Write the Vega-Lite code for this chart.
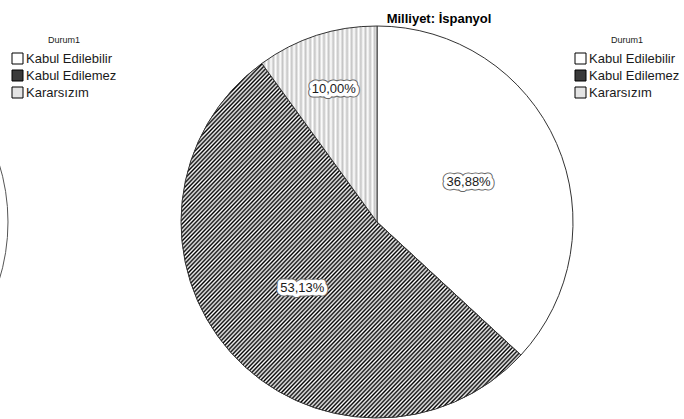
{
 "$schema": "https://vega.github.io/schema/vega-lite/v6.json",
 "width": 392,
 "height": 392,
 "autosize": {"type": "none"},
 "padding": {"left": 181, "top": 26, "right": 111, "bottom": 1},
 "background": "white",
 "title": {"text": "Milliyet: İspanyol", "font": "Liberation Sans", "fontSize": 13, "fontWeight": "bold", "color": "#000", "anchor": "middle", "frame": "group", "dx": 62, "offset": -12, "baseline": "alphabetic"},
 "data": {"values": [
  {"Milliyet": "Türk", "Durum": "Kabul Edilebilir", "Oran": 0.40},
  {"Milliyet": "Türk", "Durum": "Kabul Edilemez", "Oran": 0.50},
  {"Milliyet": "Türk", "Durum": "Kararsızım", "Oran": 0.10},
  {"Milliyet": "İspanyol", "Durum": "Kabul Edilebilir", "Oran": 0.3688},
  {"Milliyet": "İspanyol", "Durum": "Kabul Edilemez", "Oran": 0.5313},
  {"Milliyet": "İspanyol", "Durum": "Kararsızım", "Oran": 0.1000}
 ]},
 "layer": [
  {
   "transform": [{"filter": "datum.Milliyet === 'Türk'"}],
   "mark": {"type": "arc", "outerRadius": 196, "stroke": "#555", "strokeWidth": 1},
   "encoding": {
    "x": {"field": "Milliyet", "type": "nominal", "scale": {"type": "point", "padding": 0, "domain": ["Türk", "İspanyol"], "range": [-369, 196]}, "axis": null},
    "theta": {"field": "Oran", "type": "quantitative", "stack": true},
    "order": {"field": "Durum", "type": "ordinal", "sort": "ascending"},
    "fill": {"field": "Durum", "type": "nominal", "scale": {"domain": ["Kabul Edilebilir", "Kabul Edilemez", "Kararsızım"], "range": ["#ffffff", "#3a3a3a", "#e4e4e4"]},
     "legend": {"title": "Durum1", "orient": "none", "legendX": -170, "legendY": 10}}
   }
  },
  {
   "transform": [{"filter": "datum.Milliyet === 'İspanyol'"}],
   "mark": {"type": "arc", "outerRadius": 196},
   "encoding": {
    "theta": {"field": "Oran", "type": "quantitative", "stack": true},
    "order": {"field": "Durum", "type": "ordinal", "sort": "ascending"},
    "fill": {"field": "Durum", "type": "nominal", "scale": {"domain": ["Kabul Edilebilir", "Kabul Edilemez", "Kararsızım"], "range": ["#ffffff", "#3a3a3a", "#e4e4e4"]},
     "legend": {"title": "Durum1", "orient": "none", "legendX": 393, "legendY": 10}}
   }
  },
  {
   "transform": [{"filter": "datum.Milliyet === 'İspanyol'"}],
   "mark": {"type": "arc", "outerRadius": 196, "stroke": "#333", "strokeWidth": 1},
   "encoding": {
    "theta": {"field": "Oran", "type": "quantitative", "stack": true},
    "order": {"field": "Durum", "type": "ordinal", "sort": "ascending"},
    "detail": {"field": "Durum"},
    "fill": {"condition": [
     {"test": "datum.Durum === 'Kabul Edilemez'", "value": {"gradient": "linear", "x1": 0, "y1": 0, "x2": 1, "y2": 1, "stops": [
{"offset":0.000,"color":"#000"},{"offset":0.003,"color":"#fff"},{"offset":0.006,"color":"#000"},{"offset":0.009,"color":"#fff"},{"offset":0.012,"color":"#000"},{"offset":0.015,"color":"#fff"},{"offset":0.018,"color":"#000"},{"offset":0.021,"color":"#fff"},{"offset":0.024,"color":"#000"},{"offset":0.027,"color":"#fff"},
{"offset":0.030,"color":"#000"},{"offset":0.033,"color":"#fff"},{"offset":0.036,"color":"#000"},{"offset":0.039,"color":"#fff"},{"offset":0.042,"color":"#000"},{"offset":0.045,"color":"#fff"},{"offset":0.048,"color":"#000"},{"offset":0.051,"color":"#fff"},{"offset":0.054,"color":"#000"},{"offset":0.057,"color":"#fff"},
{"offset":0.060,"color":"#000"},{"offset":0.063,"color":"#fff"},{"offset":0.066,"color":"#000"},{"offset":0.069,"color":"#fff"},{"offset":0.072,"color":"#000"},{"offset":0.075,"color":"#fff"},{"offset":0.078,"color":"#000"},{"offset":0.081,"color":"#fff"},{"offset":0.084,"color":"#000"},{"offset":0.087,"color":"#fff"},
{"offset":0.090,"color":"#000"},{"offset":0.093,"color":"#fff"},{"offset":0.096,"color":"#000"},{"offset":0.099,"color":"#fff"},{"offset":0.102,"color":"#000"},{"offset":0.105,"color":"#fff"},{"offset":0.108,"color":"#000"},{"offset":0.111,"color":"#fff"},{"offset":0.114,"color":"#000"},{"offset":0.117,"color":"#fff"},
{"offset":0.120,"color":"#000"},{"offset":0.123,"color":"#fff"},{"offset":0.126,"color":"#000"},{"offset":0.129,"color":"#fff"},{"offset":0.132,"color":"#000"},{"offset":0.135,"color":"#fff"},{"offset":0.138,"color":"#000"},{"offset":0.141,"color":"#fff"},{"offset":0.144,"color":"#000"},{"offset":0.147,"color":"#fff"},
{"offset":0.150,"color":"#000"},{"offset":0.153,"color":"#fff"},{"offset":0.156,"color":"#000"},{"offset":0.159,"color":"#fff"},{"offset":0.162,"color":"#000"},{"offset":0.165,"color":"#fff"},{"offset":0.168,"color":"#000"},{"offset":0.171,"color":"#fff"},{"offset":0.174,"color":"#000"},{"offset":0.177,"color":"#fff"},
{"offset":0.180,"color":"#000"},{"offset":0.183,"color":"#fff"},{"offset":0.186,"color":"#000"},{"offset":0.189,"color":"#fff"},{"offset":0.192,"color":"#000"},{"offset":0.195,"color":"#fff"},{"offset":0.198,"color":"#000"},{"offset":0.201,"color":"#fff"},{"offset":0.204,"color":"#000"},{"offset":0.207,"color":"#fff"},
{"offset":0.210,"color":"#000"},{"offset":0.213,"color":"#fff"},{"offset":0.216,"color":"#000"},{"offset":0.219,"color":"#fff"},{"offset":0.222,"color":"#000"},{"offset":0.225,"color":"#fff"},{"offset":0.228,"color":"#000"},{"offset":0.231,"color":"#fff"},{"offset":0.234,"color":"#000"},{"offset":0.237,"color":"#fff"},
{"offset":0.240,"color":"#000"},{"offset":0.243,"color":"#fff"},{"offset":0.246,"color":"#000"},{"offset":0.249,"color":"#fff"},{"offset":0.252,"color":"#000"},{"offset":0.255,"color":"#fff"},{"offset":0.258,"color":"#000"},{"offset":0.261,"color":"#fff"},{"offset":0.264,"color":"#000"},{"offset":0.267,"color":"#fff"},
{"offset":0.270,"color":"#000"},{"offset":0.273,"color":"#fff"},{"offset":0.276,"color":"#000"},{"offset":0.279,"color":"#fff"},{"offset":0.282,"color":"#000"},{"offset":0.285,"color":"#fff"},{"offset":0.288,"color":"#000"},{"offset":0.291,"color":"#fff"},{"offset":0.294,"color":"#000"},{"offset":0.297,"color":"#fff"},
{"offset":0.300,"color":"#000"},{"offset":0.303,"color":"#fff"},{"offset":0.306,"color":"#000"},{"offset":0.309,"color":"#fff"},{"offset":0.312,"color":"#000"},{"offset":0.315,"color":"#fff"},{"offset":0.318,"color":"#000"},{"offset":0.321,"color":"#fff"},{"offset":0.324,"color":"#000"},{"offset":0.327,"color":"#fff"},
{"offset":0.330,"color":"#000"},{"offset":0.333,"color":"#fff"},{"offset":0.336,"color":"#000"},{"offset":0.339,"color":"#fff"},{"offset":0.342,"color":"#000"},{"offset":0.345,"color":"#fff"},{"offset":0.348,"color":"#000"},{"offset":0.351,"color":"#fff"},{"offset":0.354,"color":"#000"},{"offset":0.357,"color":"#fff"},
{"offset":0.360,"color":"#000"},{"offset":0.363,"color":"#fff"},{"offset":0.366,"color":"#000"},{"offset":0.369,"color":"#fff"},{"offset":0.372,"color":"#000"},{"offset":0.375,"color":"#fff"},{"offset":0.378,"color":"#000"},{"offset":0.381,"color":"#fff"},{"offset":0.384,"color":"#000"},{"offset":0.387,"color":"#fff"},
{"offset":0.390,"color":"#000"},{"offset":0.393,"color":"#fff"},{"offset":0.396,"color":"#000"},{"offset":0.399,"color":"#fff"},{"offset":0.402,"color":"#000"},{"offset":0.405,"color":"#fff"},{"offset":0.408,"color":"#000"},{"offset":0.411,"color":"#fff"},{"offset":0.414,"color":"#000"},{"offset":0.417,"color":"#fff"},
{"offset":0.420,"color":"#000"},{"offset":0.423,"color":"#fff"},{"offset":0.426,"color":"#000"},{"offset":0.429,"color":"#fff"},{"offset":0.432,"color":"#000"},{"offset":0.435,"color":"#fff"},{"offset":0.438,"color":"#000"},{"offset":0.441,"color":"#fff"},{"offset":0.444,"color":"#000"},{"offset":0.447,"color":"#fff"},
{"offset":0.450,"color":"#000"},{"offset":0.453,"color":"#fff"},{"offset":0.456,"color":"#000"},{"offset":0.459,"color":"#fff"},{"offset":0.462,"color":"#000"},{"offset":0.465,"color":"#fff"},{"offset":0.468,"color":"#000"},{"offset":0.471,"color":"#fff"},{"offset":0.474,"color":"#000"},{"offset":0.477,"color":"#fff"},
{"offset":0.480,"color":"#000"},{"offset":0.483,"color":"#fff"},{"offset":0.486,"color":"#000"},{"offset":0.489,"color":"#fff"},{"offset":0.492,"color":"#000"},{"offset":0.495,"color":"#fff"},{"offset":0.498,"color":"#000"},{"offset":0.501,"color":"#fff"},{"offset":0.504,"color":"#000"},{"offset":0.507,"color":"#fff"},
{"offset":0.510,"color":"#000"},{"offset":0.513,"color":"#fff"},{"offset":0.516,"color":"#000"},{"offset":0.519,"color":"#fff"},{"offset":0.522,"color":"#000"},{"offset":0.525,"color":"#fff"},{"offset":0.528,"color":"#000"},{"offset":0.531,"color":"#fff"},{"offset":0.534,"color":"#000"},{"offset":0.537,"color":"#fff"},
{"offset":0.540,"color":"#000"},{"offset":0.543,"color":"#fff"},{"offset":0.546,"color":"#000"},{"offset":0.549,"color":"#fff"},{"offset":0.552,"color":"#000"},{"offset":0.555,"color":"#fff"},{"offset":0.558,"color":"#000"},{"offset":0.561,"color":"#fff"},{"offset":0.564,"color":"#000"},{"offset":0.567,"color":"#fff"},
{"offset":0.570,"color":"#000"},{"offset":0.573,"color":"#fff"},{"offset":0.576,"color":"#000"},{"offset":0.579,"color":"#fff"},{"offset":0.582,"color":"#000"},{"offset":0.585,"color":"#fff"},{"offset":0.588,"color":"#000"},{"offset":0.591,"color":"#fff"},{"offset":0.594,"color":"#000"},{"offset":0.597,"color":"#fff"},
{"offset":0.600,"color":"#000"},{"offset":0.603,"color":"#fff"},{"offset":0.606,"color":"#000"},{"offset":0.609,"color":"#fff"},{"offset":0.612,"color":"#000"},{"offset":0.615,"color":"#fff"},{"offset":0.618,"color":"#000"},{"offset":0.621,"color":"#fff"},{"offset":0.624,"color":"#000"},{"offset":0.627,"color":"#fff"},
{"offset":0.630,"color":"#000"},{"offset":0.633,"color":"#fff"},{"offset":0.636,"color":"#000"},{"offset":0.639,"color":"#fff"},{"offset":0.642,"color":"#000"},{"offset":0.645,"color":"#fff"},{"offset":0.648,"color":"#000"},{"offset":0.651,"color":"#fff"},{"offset":0.654,"color":"#000"},{"offset":0.657,"color":"#fff"},
{"offset":0.660,"color":"#000"},{"offset":0.663,"color":"#fff"},{"offset":0.666,"color":"#000"},{"offset":0.669,"color":"#fff"},{"offset":0.672,"color":"#000"},{"offset":0.675,"color":"#fff"},{"offset":0.678,"color":"#000"},{"offset":0.681,"color":"#fff"},{"offset":0.684,"color":"#000"},{"offset":0.687,"color":"#fff"},
{"offset":0.690,"color":"#000"},{"offset":0.693,"color":"#fff"},{"offset":0.696,"color":"#000"},{"offset":0.699,"color":"#fff"},{"offset":0.702,"color":"#000"},{"offset":0.705,"color":"#fff"},{"offset":0.708,"color":"#000"},{"offset":0.711,"color":"#fff"},{"offset":0.714,"color":"#000"},{"offset":0.717,"color":"#fff"},
{"offset":0.720,"color":"#000"},{"offset":0.723,"color":"#fff"},{"offset":0.726,"color":"#000"},{"offset":0.729,"color":"#fff"},{"offset":0.732,"color":"#000"},{"offset":0.735,"color":"#fff"},{"offset":0.738,"color":"#000"},{"offset":0.741,"color":"#fff"},{"offset":0.744,"color":"#000"},{"offset":0.747,"color":"#fff"},
{"offset":0.750,"color":"#000"},{"offset":0.753,"color":"#fff"},{"offset":0.756,"color":"#000"},{"offset":0.759,"color":"#fff"},{"offset":0.762,"color":"#000"},{"offset":0.765,"color":"#fff"},{"offset":0.768,"color":"#000"},{"offset":0.771,"color":"#fff"},{"offset":0.774,"color":"#000"},{"offset":0.777,"color":"#fff"},
{"offset":0.780,"color":"#000"},{"offset":0.783,"color":"#fff"},{"offset":0.786,"color":"#000"},{"offset":0.789,"color":"#fff"},{"offset":0.792,"color":"#000"},{"offset":0.795,"color":"#fff"},{"offset":0.798,"color":"#000"},{"offset":0.801,"color":"#fff"},{"offset":0.804,"color":"#000"},{"offset":0.807,"color":"#fff"},
{"offset":0.810,"color":"#000"},{"offset":0.813,"color":"#fff"},{"offset":0.816,"color":"#000"},{"offset":0.819,"color":"#fff"},{"offset":0.822,"color":"#000"},{"offset":0.825,"color":"#fff"},{"offset":0.828,"color":"#000"},{"offset":0.831,"color":"#fff"},{"offset":0.834,"color":"#000"},{"offset":0.837,"color":"#fff"},
{"offset":0.840,"color":"#000"},{"offset":0.843,"color":"#fff"},{"offset":0.846,"color":"#000"},{"offset":0.849,"color":"#fff"},{"offset":0.852,"color":"#000"},{"offset":0.855,"color":"#fff"},{"offset":0.858,"color":"#000"},{"offset":0.861,"color":"#fff"},{"offset":0.864,"color":"#000"},{"offset":0.867,"color":"#fff"},
{"offset":0.870,"color":"#000"},{"offset":0.873,"color":"#fff"},{"offset":0.876,"color":"#000"},{"offset":0.879,"color":"#fff"},{"offset":0.882,"color":"#000"},{"offset":0.885,"color":"#fff"},{"offset":0.888,"color":"#000"},{"offset":0.891,"color":"#fff"},{"offset":0.894,"color":"#000"},{"offset":0.897,"color":"#fff"},
{"offset":0.900,"color":"#000"},{"offset":0.903,"color":"#fff"},{"offset":0.906,"color":"#000"},{"offset":0.909,"color":"#fff"},{"offset":0.912,"color":"#000"},{"offset":0.915,"color":"#fff"},{"offset":0.918,"color":"#000"},{"offset":0.921,"color":"#fff"},{"offset":0.924,"color":"#000"},{"offset":0.927,"color":"#fff"},
{"offset":0.930,"color":"#000"},{"offset":0.933,"color":"#fff"},{"offset":0.936,"color":"#000"},{"offset":0.939,"color":"#fff"},{"offset":0.942,"color":"#000"},{"offset":0.945,"color":"#fff"},{"offset":0.948,"color":"#000"},{"offset":0.951,"color":"#fff"},{"offset":0.954,"color":"#000"},{"offset":0.957,"color":"#fff"},
{"offset":0.960,"color":"#000"},{"offset":0.963,"color":"#fff"},{"offset":0.966,"color":"#000"},{"offset":0.969,"color":"#fff"},{"offset":0.972,"color":"#000"},{"offset":0.975,"color":"#fff"},{"offset":0.978,"color":"#000"},{"offset":0.981,"color":"#fff"},{"offset":0.984,"color":"#000"},{"offset":0.987,"color":"#fff"},
{"offset":0.990,"color":"#000"},{"offset":0.993,"color":"#fff"},{"offset":0.996,"color":"#000"},{"offset":0.999,"color":"#fff"},{"offset":1,"color":"#000"}
     ]}},
     {"test": "datum.Durum === 'Kararsızım'", "value": {"gradient": "linear", "x1": 0, "y1": 0, "x2": 1, "y2": 0, "stops": [
{"offset":0.00,"color":"#fff"},{"offset":0.02,"color":"#c4c4c4"},{"offset":0.04,"color":"#fff"},{"offset":0.06,"color":"#c4c4c4"},{"offset":0.08,"color":"#fff"},{"offset":0.10,"color":"#c4c4c4"},{"offset":0.12,"color":"#fff"},{"offset":0.14,"color":"#c4c4c4"},{"offset":0.16,"color":"#fff"},{"offset":0.18,"color":"#c4c4c4"},
{"offset":0.20,"color":"#fff"},{"offset":0.22,"color":"#c4c4c4"},{"offset":0.24,"color":"#fff"},{"offset":0.26,"color":"#c4c4c4"},{"offset":0.28,"color":"#fff"},{"offset":0.30,"color":"#c4c4c4"},{"offset":0.32,"color":"#fff"},{"offset":0.34,"color":"#c4c4c4"},{"offset":0.36,"color":"#fff"},{"offset":0.38,"color":"#c4c4c4"},
{"offset":0.40,"color":"#fff"},{"offset":0.42,"color":"#c4c4c4"},{"offset":0.44,"color":"#fff"},{"offset":0.46,"color":"#c4c4c4"},{"offset":0.48,"color":"#fff"},{"offset":0.50,"color":"#c4c4c4"},{"offset":0.52,"color":"#fff"},{"offset":0.54,"color":"#c4c4c4"},{"offset":0.56,"color":"#fff"},{"offset":0.58,"color":"#c4c4c4"},
{"offset":0.60,"color":"#fff"},{"offset":0.62,"color":"#c4c4c4"},{"offset":0.64,"color":"#fff"},{"offset":0.66,"color":"#c4c4c4"},{"offset":0.68,"color":"#fff"},{"offset":0.70,"color":"#c4c4c4"},{"offset":0.72,"color":"#fff"},{"offset":0.74,"color":"#c4c4c4"},{"offset":0.76,"color":"#fff"},{"offset":0.78,"color":"#c4c4c4"},
{"offset":0.80,"color":"#fff"},{"offset":0.82,"color":"#c4c4c4"},{"offset":0.84,"color":"#fff"},{"offset":0.86,"color":"#c4c4c4"},{"offset":0.88,"color":"#fff"},{"offset":0.90,"color":"#c4c4c4"},{"offset":0.92,"color":"#fff"},{"offset":0.94,"color":"#c4c4c4"},{"offset":0.96,"color":"#fff"},{"offset":0.98,"color":"#c4c4c4"},
{"offset":1.00,"color":"#fff"}
     ]}}
    ], "value": "#ffffff"}
   }
  },
  {
   "transform": [{"filter": "datum.Milliyet === 'İspanyol'"}],
   "mark": {"type": "text", "radius": {"expr": "datum.Durum === 'Kararsızım' ? 140 : 100"}, "font": "Liberation Sans", "fontSize": 13, "align": "center", "baseline": "middle", "fill": "#666", "stroke": "#666", "strokeWidth": 9, "strokeJoin": "round"},
   "encoding": {
    "theta": {"field": "Oran", "type": "quantitative", "stack": true},
    "order": {"field": "Durum", "type": "ordinal", "sort": "ascending"},
    "detail": {"field": "Durum"},
    "text": {"field": "Oran", "type": "quantitative", "format": ".2%"}
   }
  },
  {
   "transform": [{"filter": "datum.Milliyet === 'İspanyol'"}],
   "mark": {"type": "text", "radius": {"expr": "datum.Durum === 'Kararsızım' ? 140 : 100"}, "font": "Liberation Sans", "fontSize": 13, "align": "center", "baseline": "middle", "fill": "#fff", "stroke": "#fff", "strokeWidth": 7, "strokeJoin": "round"},
   "encoding": {
    "theta": {"field": "Oran", "type": "quantitative", "stack": true},
    "order": {"field": "Durum", "type": "ordinal", "sort": "ascending"},
    "detail": {"field": "Durum"},
    "text": {"field": "Oran", "type": "quantitative", "format": ".2%"}
   }
  },
  {
   "transform": [{"filter": "datum.Milliyet === 'İspanyol'"}],
   "mark": {"type": "text", "radius": {"expr": "datum.Durum === 'Kararsızım' ? 140 : 100"}, "font": "Liberation Sans", "fontSize": 13, "align": "center", "baseline": "middle", "fill": "#1a1a1a"},
   "encoding": {
    "theta": {"field": "Oran", "type": "quantitative", "stack": true},
    "order": {"field": "Durum", "type": "ordinal", "sort": "ascending"},
    "detail": {"field": "Durum"},
    "text": {"field": "Oran", "type": "quantitative", "format": ".2%"}
   }
  }
 ],
 "resolve": {"scale": {"fill": "independent", "theta": "independent"}, "legend": {"fill": "independent"}},
 "config": {
  "locale": {"number": {"decimal": ",", "thousands": ".", "grouping": [3], "currency": ["", " TL"]}},
  "view": {"stroke": null},
  "legend": {"symbolType": "square", "symbolSize": 121, "symbolStrokeColor": "#000", "symbolStrokeWidth": 1, "labelFont": "Liberation Sans", "labelFontSize": 13, "labelColor": "#1a1a1a", "titleFont": "Liberation Sans", "titleFontSize": 9, "titleFontWeight": "normal", "titleColor": "#1a1a1a", "titleAnchor": "middle", "titlePadding": 7, "rowPadding": 2, "labelOffset": 2, "padding": 0}
 }
}
